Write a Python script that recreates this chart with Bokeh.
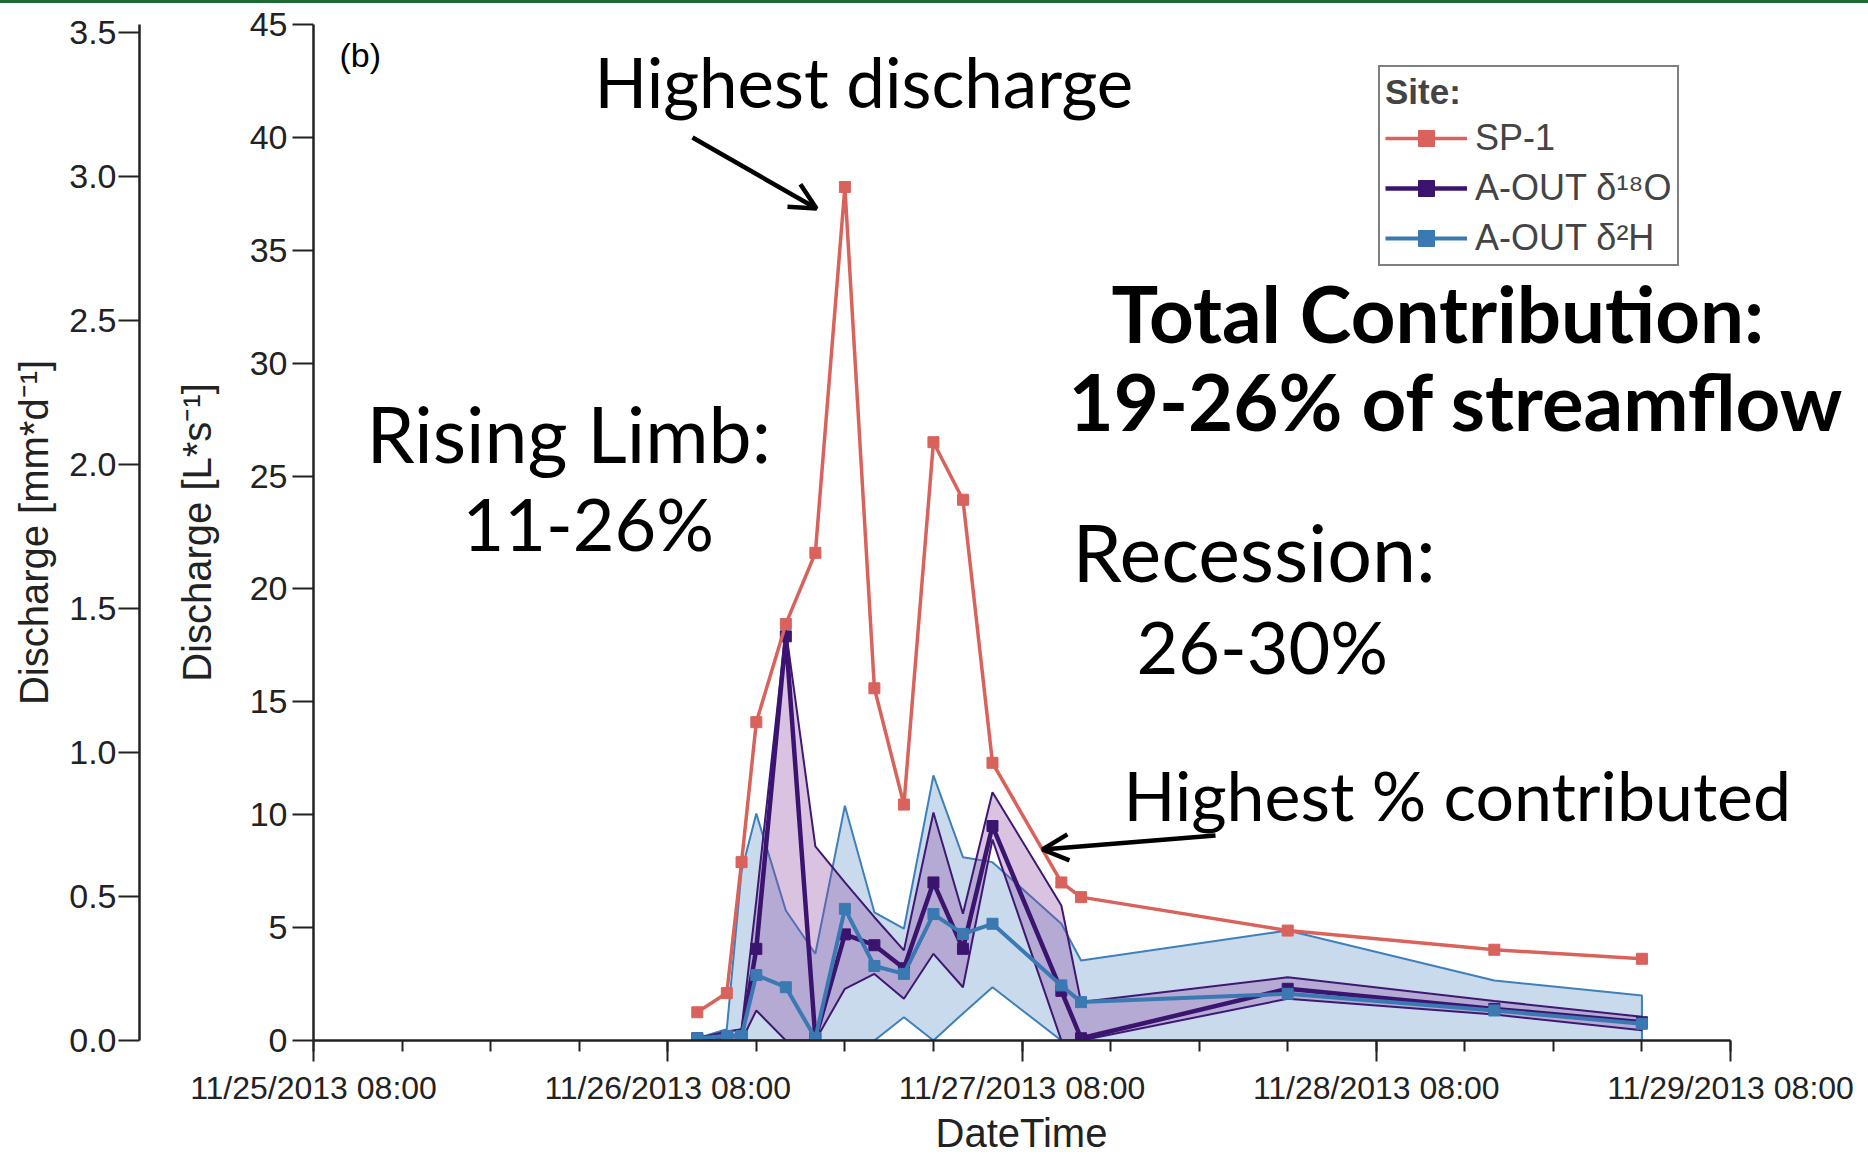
import pandas as pd
from bokeh.plotting import figure
from bokeh.models import (Range1d, LinearAxis, FixedTicker, SingleIntervalTicker,
                          DatetimeTickFormatter, PrintfTickFormatter, Label, Arrow,
                          OpenHead, Legend, LegendItem, Title)
from bokeh.embed import file_html
from bokeh.resources import INLINE

# ---- data -------------------------------------------------------------
sample_times = pd.to_datetime([
    "2013-11-26 10:00", "2013-11-26 12:00", "2013-11-26 13:00", "2013-11-26 14:00",
    "2013-11-26 16:00", "2013-11-26 18:00", "2013-11-26 20:00", "2013-11-26 22:00",
    "2013-11-27 00:00", "2013-11-27 02:00", "2013-11-27 04:00", "2013-11-27 06:00",
    "2013-11-27 10:40", "2013-11-27 12:00", "2013-11-28 02:00", "2013-11-28 16:00",
    "2013-11-29 02:00",
])

# SP-1 discharge [L/s]
sp1_q = [1.25, 2.1, 7.9, 14.1, 18.45, 21.6, 37.8, 15.6, 10.45, 26.5, 23.95, 12.3,
         7.0, 6.35, 4.87, 4.02, 3.62]

# A-OUT contribution from d18O separation [L/s] with uncertainty envelope
o18_mid = [0.1, 0.2, 0.2, 4.06, 17.9, 0.1, 4.7, 4.22, 3.2, 7.0, 4.06, 9.5,
           2.2, 0.1, 2.29, 1.40, 0.81]
o18_hi = [0.1, 0.4, 0.5, 6.2, 18.2, 8.6, 7.0, 5.46, 3.99, 10.1, 5.61, 11.0,
          5.98, 1.7, 2.8, 1.75, 1.05]
o18_lo = [0.0, 0.0, 0.0, 1.33, 0.0, 0.0, 2.29, 2.95, 1.85, 3.84, 2.36, 8.9,
          0.0, 0.0, 1.85, 1.15, 0.45]

# A-OUT contribution from d2H separation [L/s] with uncertainty envelope
h2_mid = [0.1, 0.2, 0.2, 2.9, 2.36, 0.1, 5.83, 3.3, 2.95, 5.6, 4.72, 5.17,
          2.44, 1.7, 2.07, 1.33, 0.74]
h2_hi = [0.1, 0.5, 7.5, 10.05, 5.76, 3.84, 10.4, 5.68, 4.95, 11.74, 8.12, 7.9,
         5.17, 3.54, 4.87, 2.66, 1.99]
h2_lo = [0.0, 0.0, 0.0, 0.0, 0.0, 0.0, 0.0, 0.0, 1.03, 0.0, 1.2, 2.36,
         0.0, 0.0, 0.0, 0.0, 0.0]

series_labels = ["SP-1", "A-OUT δ¹⁸O", "A-OUT δ²H"]
ls_ticks = list(range(0, 46, 5))
ls_per_mmd = 12.75          # 1 mm/d over the catchment in L/s

t_start = pd.Timestamp("2013-11-25 08:00")
t_end = pd.Timestamp("2013-11-29 08:00")
day_ticks = pd.date_range(t_start, t_end, freq="1D")
quarter_day_ticks = pd.date_range(t_start, t_end, freq="6h")

# ---- styling ----------------------------------------------------------
RED = "#d9625c"
PURPLE = "#3b1470"
BLUE = "#3a79b2"
AXIS = "#222222"
SANS = "Liberation Sans"
ANNOT = "Lato"

W, H = 1868, 1154
FL, FT, FB = 313, 24, 1040      # frame left / top / bottom in page pixels
AX_END = 1730                   # page x of the last date tick

def ms(ts):
    return ts.value / 1e6

start_ms, end_ms = ms(t_start), ms(t_end)
ms_per_px = (end_ms - start_ms) / (AX_END - FL)
view_end = start_ms + (W - FL) * ms_per_px   # frame runs to the page edge

p = figure(width=W, height=H, x_axis_type="datetime",
           x_range=Range1d(start_ms, view_end), y_range=Range1d(0, 45),
           output_backend="svg", toolbar_location=None,
           min_border_left=FL, min_border_right=0,
           min_border_top=FT, min_border_bottom=H - FB)
p.outline_line_color = None
p.grid.visible = False
p.background_fill_color = "white"
p.border_fill_alpha = 0
p.styles = {"background-color": "white",
            "box-shadow": "inset 0 3px 0 0 #1d6a32"}

def at_x(px):
    return start_ms + (px - FL) * ms_per_px

def at_y(py):
    return (FB - py) / (FB - FT) * 45

# ---- uncertainty bands ------------------------------------------------
t_list = list(sample_times)
band_x = t_list + t_list[::-1]
p.patch(band_x, h2_hi + h2_lo[::-1], fill_color="#b9cfe6", fill_alpha=0.78,
        line_color="#3f80b9", line_width=2)
p.patch(band_x, o18_hi + o18_lo[::-1], fill_color="#8d45a1", fill_alpha=0.32,
        line_color="#3e1873", line_width=2)

# ---- series lines with square markers --------------------------------
o18_line = p.line(sample_times, o18_mid, line_color=PURPLE, line_width=4.5)
o18_pts = p.scatter(sample_times, o18_mid, marker="square", size=11,
                    fill_color=PURPLE, line_color=PURPLE)
h2_line = p.line(sample_times, h2_mid, line_color=BLUE, line_width=4)
h2_pts = p.scatter(sample_times, h2_mid, marker="square", size=11,
                   fill_color=BLUE, line_color=BLUE)
sp1_line = p.line(sample_times, sp1_q, line_color=RED, line_width=3.5)
sp1_pts = p.scatter(sample_times, sp1_q, marker="square", size=11,
                    fill_color=RED, line_color=RED)

# ---- axes -------------------------------------------------------------
xa = p.xaxis[0]
xa.bounds = (start_ms, end_ms)
xa.ticker = FixedTicker(ticks=[ms(t) for t in day_ticks],
                        minor_ticks=[ms(t) for t in quarter_day_ticks])
fmt = "%m/%d/%Y %H:%M"
xa.formatter = DatetimeTickFormatter(days=fmt, hours=fmt, months=fmt, hourmin=fmt,
                                     minutes=fmt, years=fmt)
xa.axis_label = None
xa.major_label_text_font = SANS
xa.major_label_text_font_size = "32px"
xa.major_label_text_color = AXIS
xa.major_label_standoff = 8
xa.major_tick_out = 21
xa.major_tick_in = 0
xa.minor_tick_out = 11
xa.minor_tick_in = 0
xa.axis_line_width = 2.5
xa.major_tick_line_width = 2
xa.minor_tick_line_width = 2
xa.axis_line_color = AXIS
xa.major_tick_line_color = AXIS
xa.minor_tick_line_color = AXIS

# x-axis caption, centred under the dated part of the axis
p.add_layout(Title(text="DateTime", align="left", offset=622, standoff=0,
                   text_font=SANS, text_font_size="40px", text_font_style="normal",
                   text_color=AXIS), "below")

ya = p.yaxis[0]
ya.ticker = FixedTicker(ticks=ls_ticks)
ya.axis_label = "Discharge [L*s⁻¹]"
ya.axis_label_standoff = 28
ya.major_label_standoff = 5

p.extra_y_ranges = {"mmd": Range1d(0, 45 / ls_per_mmd)}

# blank gap between the two left-hand axes
gap_axis = LinearAxis(y_range_name="mmd", ticker=FixedTicker(ticks=[0]),
                      major_label_overrides={0: ""},
                      axis_line_color=None, major_tick_line_color=None,
                      minor_tick_line_color=None, major_tick_out=32, minor_tick_out=0,
                      major_tick_in=0, minor_tick_in=0, major_label_standoff=0)
p.add_layout(gap_axis, "left")

mmd = LinearAxis(y_range_name="mmd",
                 ticker=SingleIntervalTicker(interval=0.5, num_minor_ticks=0),
                 formatter=PrintfTickFormatter(format="%.1f"),
                 axis_label="Discharge [mm*d⁻¹]")
mmd.axis_label_standoff = 10
mmd.major_label_standoff = 2
p.add_layout(mmd, "left")

for ax in (ya, mmd):
    ax.axis_label_text_font = SANS
    ax.axis_label_text_font_size = "40px"
    ax.axis_label_text_font_style = "normal"
    ax.axis_label_text_color = AXIS
    ax.major_label_text_font = SANS
    ax.major_label_text_font_size = "34px"
    ax.major_label_text_color = AXIS
    ax.major_tick_out = 21
    ax.major_tick_in = 0
    ax.minor_tick_out = 0
    ax.minor_tick_in = 0
    ax.minor_tick_line_color = None
    ax.axis_line_width = 2.5
    ax.major_tick_line_width = 2
    ax.axis_line_color = AXIS
    ax.major_tick_line_color = AXIS

# ---- legend -----------------------------------------------------------
legend = Legend(items=[
    LegendItem(label=series_labels[0], renderers=[sp1_line, sp1_pts]),
    LegendItem(label=series_labels[1], renderers=[o18_line, o18_pts]),
    LegendItem(label=series_labels[2], renderers=[h2_line, h2_pts]),
], location=(1378 - FL, FB - 266))
legend.title = "Site:"
legend.title_text_font = SANS
legend.title_text_font_style = "bold"
legend.title_text_font_size = "35px"
legend.title_standoff = 5
legend.label_text_font = SANS
legend.label_text_font_size = "36px"
legend.glyph_width = 82
legend.glyph_height = 40
legend.label_height = 40
legend.label_standoff = 8
legend.spacing = 8
legend.padding = 5
legend.margin = 0
legend.border_line_color = "black"
legend.border_line_width = 2
legend.background_fill_alpha = 1
p.add_layout(legend)

# ---- annotations ------------------------------------------------------
def text(s, px, py, size, font=ANNOT, style="normal"):
    # py is the page y of the text baseline
    p.add_layout(Label(x=at_x(px), y=at_y(py - 0.385 * size), text=s, text_font=font,
                       text_font_size=f"{size}px", text_font_style=style,
                       text_color="black", text_align="left",
                       text_baseline="alphabetic"))

text("(b)", 339, 68, 34, font=SANS)
text("Highest discharge", 594, 108, 69)
text("Rising Limb:", 366, 462, 77)
text("11-26%", 462, 550, 72)
text("Total Contribution:", 1111, 343, 78, style="bold")
text("19-26% of streamflow", 1068, 431, 78, style="bold")
text("Recession:", 1072, 581, 79)
text("26-30%", 1136, 673, 72)
text("Highest % contributed", 1123, 820, 68)

for (x0, y0, x1, y1) in [(692, 137, 816, 208), (1215, 835, 1042, 849)]:
    p.add_layout(Arrow(x_start=at_x(x0), y_start=at_y(y0),
                       x_end=at_x(x1), y_end=at_y(y1),
                       line_width=4.5, line_color="black",
                       end=OpenHead(size=26, line_width=4.5, line_color="black")))

open("out.html", "w").write(file_html(p, INLINE))
